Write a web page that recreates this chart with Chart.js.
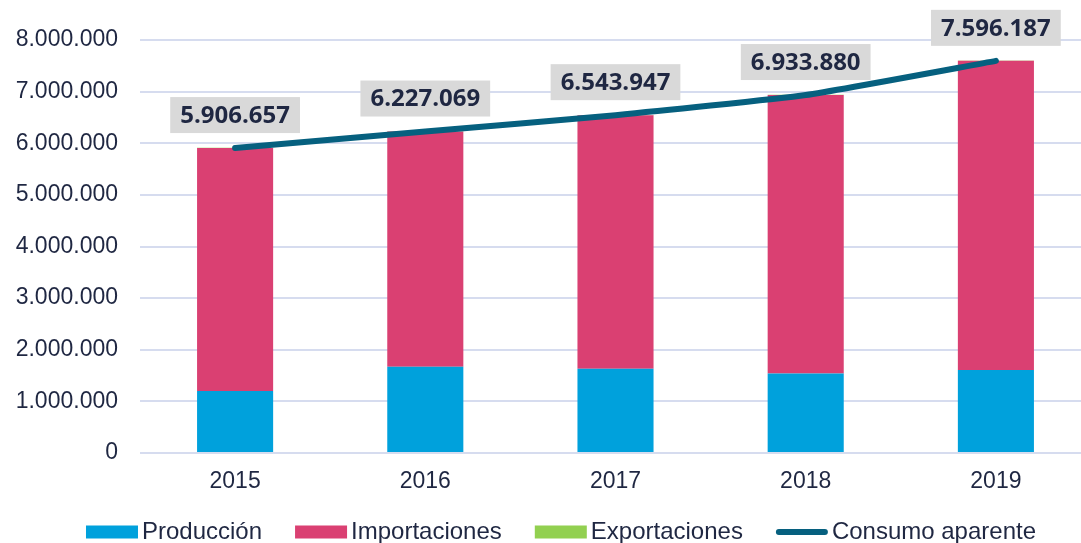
<!DOCTYPE html>
<html>
<head>
<meta charset="utf-8">
<script src="https://cdn.jsdelivr.net/npm/chart.js@4.4.1/dist/chart.umd.min.js"></script>
<style>
  html, body { margin: 0; padding: 0; background: #fff; overflow: hidden; }
  #wrap { width: 1091px; height: 543px; }
</style>
</head>
<body>
<div id="wrap"><canvas id="consumoChart"></canvas></div>
<script>
const years = ['2015', '2016', '2017', '2018', '2019'];
const produccion = [1200000, 1670000, 1630000, 1540000, 1610000];
const importaciones = [4706657, 4557069, 4913947, 5393880, 5986187];
const exportaciones = [6000, 5000, 5000, 6000, 5000];
const consumo = [5906657, 6227069, 6543947, 6933880, 7596187];
const yTicks = [0, 1000000, 2000000, 3000000, 4000000, 5000000, 6000000, 7000000, 8000000];

const textColor = '#1f2742';
const lineColor = '#06607f';

const fmt = v => String(Math.round(v)).replace(/\B(?=(\d{3})+(?!\d))/g, '.');

// gray boxes with the consumption value above each point
const valueLabels = {
    id: 'valueLabels',
    afterDatasetsDraw(chart) {
        const ctx = chart.ctx;
        const meta = chart.getDatasetMeta(3);
        ctx.save();
        ctx.font = 'bold 24px "Open Sans"';
        ctx.textAlign = 'center';
        ctx.textBaseline = 'middle';
        meta.data.forEach((pt, i) => {
            const txt = fmt(consumo[i]);
            const w = ctx.measureText(txt).width + 20;
            const h = 36;
            const cy = pt.y - 33;
            ctx.fillStyle = '#d9d9d9';
            ctx.fillRect(pt.x - w / 2, cy - h / 2, w, h);
            ctx.fillStyle = textColor;
            ctx.fillText(txt, pt.x, cy + 1);
        });
        ctx.restore();
    }
};

// legend drawn like the original: wide boxes, small gap before the text
const bottomLegend = {
    id: 'bottomLegend',
    afterDraw(chart) {
        const ctx = chart.ctx;
        const items = chart.data.datasets.map(ds => ({ label: ds.label, color: ds.type === 'line' ? ds.borderColor : ds.backgroundColor, line: ds.type === 'line' }));
        ctx.save();
        ctx.font = '24px "Liberation Sans", Arial';
        ctx.textBaseline = 'middle';
        const boxW = 52, gapText = 4, gapItem = 33;
        let total = 0;
        items.forEach((it, i) => {
            it.w = boxW + gapText + ctx.measureText(it.label).width;
            total += it.w + (i ? gapItem : 0);
        });
        let x = 561 - total / 2;
        const y = 532;
        items.forEach(it => {
            if (it.line) {
                ctx.strokeStyle = it.color;
                ctx.lineWidth = 6;
                ctx.lineCap = 'round';
                ctx.beginPath();
                ctx.moveTo(x + 3, y);
                ctx.lineTo(x + boxW - 3, y);
                ctx.stroke();
            } else {
                ctx.fillStyle = it.color;
                ctx.fillRect(x, y - 6.5, boxW, 13);
            }
            ctx.fillStyle = textColor;
            ctx.fillText(it.label, x + boxW + gapText, y);
            x += it.w + gapItem;
        });
        ctx.restore();
    }
};

const ctx = document.getElementById('consumoChart').getContext('2d');
new Chart(ctx, {
    data: {
        labels: years,
        datasets: [
            { type: 'bar', label: 'Producción', data: produccion, backgroundColor: '#00a1dc', stack: 'bars', order: 1 },
            { type: 'bar', label: 'Importaciones', data: importaciones, backgroundColor: '#da4072', stack: 'bars', order: 1 },
            { type: 'bar', label: 'Exportaciones', data: exportaciones, backgroundColor: '#92d050', stack: 'bars', order: 1 },
            {
                type: 'line', label: 'Consumo aparente', data: consumo, borderColor: lineColor,
                backgroundColor: lineColor, borderWidth: 6, pointRadius: 0, tension: 0.15,
                borderCapStyle: 'round', stack: 'line', order: 0
            }
        ]
    },
    options: {
        responsive: true,
        maintainAspectRatio: false,
        animation: false,
        layout: { padding: { left: 0, top: 40, right: 0, bottom: 48 } },
        datasets: { bar: { categoryPercentage: 1, barPercentage: 0.4 } },
        plugins: { legend: { display: false }, tooltip: { enabled: false } },
        scales: {
            x: {
                stacked: true,
                grid: { display: false },
                border: { display: false },
                ticks: { color: textColor, font: { family: '"Liberation Sans", Arial', size: 23 }, padding: 7 },
                afterFit: s => { s.height = 42; }
            },
            y: {
                stacked: true,
                min: 0,
                max: 8000000,
                afterBuildTicks: s => { s.ticks = yTicks.map(v => ({ value: v })); },
                grid: { color: '#d6dcef', lineWidth: 2, drawTicks: false },
                border: { display: false },
                ticks: { color: textColor, font: { family: '"Liberation Sans", Arial', size: 23 }, padding: 22, callback: v => fmt(v) },
                afterFit: s => { s.width = 140; }
            }
        }
    },
    plugins: [valueLabels, bottomLegend]
});
</script>
</body>
</html>
